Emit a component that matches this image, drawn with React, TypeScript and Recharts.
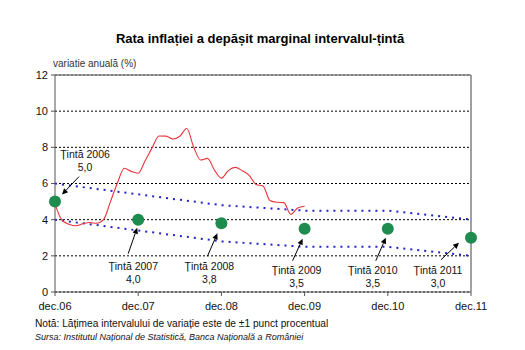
import React from "react";
import { ComposedChart, Line, XAxis, YAxis, CartesianGrid, ReferenceLine } from "recharts";

// monthly annual CPI inflation, dec.06 .. dec.09
const inflation = [
  4.87,
  3.97, 3.75, 3.66, 3.77, 3.84, 3.8, 4.0, 5.0, 6.03, 6.84, 6.67, 6.57,
  7.26, 7.97, 8.63, 8.62, 8.46, 8.61, 9.04, 8.02, 7.3, 7.39, 6.74, 6.3,
  6.71, 6.89, 6.71, 6.45, 5.95, 5.86, 5.06, 4.96, 4.94, 4.3, 4.64, 4.74,
];

// one value per december, dec.06 .. dec.11
const yearLabels = ["dec.06", "dec.07", "dec.08", "dec.09", "dec.10", "dec.11"];
const targetYears = ["2006", "2007", "2008", "2009", "2010", "2011"];
const targets = [5.0, 4.0, 3.8, 3.5, 3.5, 3.0];
const bandUpper = [6.0, 5.4, 4.8, 4.5, 4.5, 4.0];
const bandLower = [4.0, 3.4, 2.8, 2.5, 2.5, 2.0];
const yTicks = [0, 2, 4, 6, 8, 10, 12];

const FONT = '"Liberation Sans", Arial, sans-serif';

// label / arrow placement relative to each target dot (px)
const annot = [
  { tx: 30, ty: -44, ax: 24, ay: -25, hx: 7, hy: -7 },
  { tx: -5, ty: 50, ax: -10, ay: 34, hx: -1, hy: 8 },
  { tx: -12, ty: 47, ax: -14, ay: 33, hx: -4, hy: 10 },
  { tx: -8, ty: 45, ax: -12, ay: 32, hx: -2, hy: 10 },
  { tx: -15, ty: 45, ax: -12, ay: 32, hx: -2, hy: 9 },
  { tx: -33, ty: 36, ax: -30, ay: 22, hx: -12, hy: 5 },
];

const data = Array.from({ length: 61 }, (_, m) => {
  const yi = m % 12 === 0 ? m / 12 : -1;
  return {
    m,
    inflation: m < inflation.length ? inflation[m] : null,
    upper: yi >= 0 ? bandUpper[yi] : null,
    lower: yi >= 0 ? bandLower[yi] : null,
    target: yi >= 0 ? targets[yi] : null,
  };
});

const fmt = (v: number) => v.toFixed(1).replace(".", ",");

const renderTarget = (props: any) => {
  const { cx, cy, payload, index } = props;
  if (payload == null || payload.target == null || cx == null || cy == null) {
    return <g key={`t-${index}`} />;
  }
  const yi = payload.m / 12;
  const a = annot[yi];
  const x1 = cx + a.ax, y1 = cy + a.ay, x2 = cx + a.hx, y2 = cy + a.hy;
  const dx = x2 - x1, dy = y2 - y1;
  const len = Math.sqrt(dx * dx + dy * dy);
  const ux = dx / len, uy = dy / len;
  const hl = 6, hw = 2.8;
  const bx = x2 - ux * hl, by = y2 - uy * hl;
  const head = `${x2},${y2} ${bx - uy * hw},${by + ux * hw} ${bx + uy * hw},${by - ux * hw}`;
  return (
    <g key={`t-${index}`}>
      <circle cx={cx} cy={cy} r={6} fill="#1e8c4e" />
      <line x1={x1} y1={y1} x2={bx} y2={by} stroke="#000" strokeWidth={1} />
      <polygon points={head} fill="#000" />
      <text x={cx + a.tx} y={cy + a.ty} textAnchor="middle" fontSize={10.5} fontFamily={FONT} fill="#111">
        {`Țintă ${targetYears[yi]}`}
      </text>
      <text x={cx + a.tx} y={cy + a.ty + 13} textAnchor="middle" fontSize={10.5} fontFamily={FONT} fill="#111">
        {fmt(targets[yi])}
      </text>
    </g>
  );
};

export default function App() {
  return (
    <div style={{ position: "absolute", left: 0, top: 0, width: 525, height: 350, background: "#fff", fontFamily: FONT, color: "#111" }}>
      <div style={{ position: "absolute", left: 0, width: 525, top: 31, textAlign: "center", fontSize: 13, lineHeight: "16px", fontWeight: "bold", paddingRight: 5, boxSizing: "border-box", color: "#000" }}>
        Rata inflației a depășit marginal intervalul-țintă
      </div>
      <div style={{ position: "absolute", left: 53, top: 58, fontSize: 10, lineHeight: "12px", color: "#333" }}>
        variatie anuală (%)
      </div>
      <ComposedChart
        width={525}
        height={350}
        data={data}
        margin={{ top: 75, right: 54, bottom: 28, left: 0 }}
        style={{ position: "absolute", left: 0, top: 0 }}
      >
        <CartesianGrid horizontal vertical={false} stroke="#000" strokeDasharray="2 2" />
        <XAxis
          dataKey="m"
          type="number"
          domain={[0, 60]}
          ticks={[0, 12, 24, 36, 48, 60]}
          tickFormatter={(v: number) => yearLabels[v / 12]}
          height={30}
          stroke="#555"
          tickSize={4}
          tickMargin={6}
          tick={{ fill: "#111", fontSize: 11, fontFamily: FONT }}
        />
        <YAxis
          domain={[0, 12]}
          ticks={yTicks}
          width={55}
          stroke="#555"
          tickSize={4}
          tickMargin={3}
          tick={{ fill: "#111", fontSize: 11, fontFamily: FONT }}
        />
        <ReferenceLine y={12} stroke="#808080" strokeWidth={1.5} />
        <ReferenceLine x={60} stroke="#808080" strokeWidth={1.5} />
        <Line dataKey="upper" type="linear" stroke="#2323c8" strokeWidth={2} strokeDasharray="2 5" dot={false} activeDot={false} connectNulls isAnimationActive={false} />
        <Line dataKey="lower" type="linear" stroke="#2323c8" strokeWidth={2} strokeDasharray="2 5" dot={false} activeDot={false} connectNulls isAnimationActive={false} />
        <Line dataKey="inflation" type="monotone" stroke="#e8343a" strokeWidth={1.1} dot={false} activeDot={false} isAnimationActive={false} />
        <Line dataKey="target" stroke="none" dot={renderTarget} activeDot={false} connectNulls isAnimationActive={false} />
      </ComposedChart>
      <div style={{ position: "absolute", left: 35, top: 318, fontSize: 10.2, lineHeight: "12px" }}>
        Notă: Lățimea intervalului de variație este de ±1 punct procentual
      </div>
      <div style={{ position: "absolute", left: 35, top: 332, fontSize: 9, lineHeight: "10px", fontStyle: "italic" }}>
        Sursa: Institutul Național de Statistică, Banca Națională a României
      </div>
    </div>
  );
}
